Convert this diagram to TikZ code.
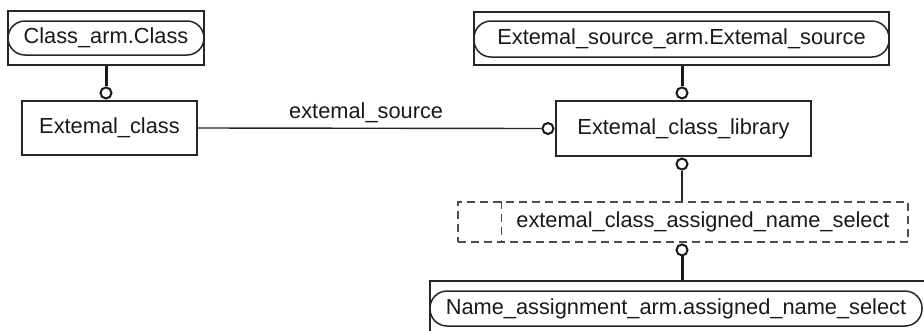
\documentclass[tikz,border=0pt]{standalone}
\usepackage{fontspec}
\setmainfont{Liberation Sans}
\begin{document}
\begin{tikzpicture}[x=1pt,y=-1pt,
  lbl/.style={font=\fontsize{21.8}{26}\selectfont, text=black!90},
  box/.style={draw=black!85, line width=1.5pt, inner sep=0pt, lbl},
  armin/.style={box, rounded corners=17pt},
  selbox/.style={draw=black!70, line width=1.3pt, dash pattern=on 8pt off 5pt, inner sep=0pt},
  thinc/.style={draw=black!85, line width=1.4pt},
  thickc/.style={draw=black!90, line width=3pt},
  ring/.style={circle, draw=black!90, line width=2pt, minimum size=11pt, inner sep=0pt, fill=white}
]
\useasboundingbox (0,0) rectangle (924,330);
\clip (0,0) rectangle (924,330);

% Class_arm.Class
\node[box, minimum width=196pt, minimum height=54pt] (arm1out) at (106,38) {};
\node[armin, minimum width=196pt, minimum height=34pt] (arm1in) at (106,38) {Class\_arm.Class};

% Extemal_class
\node[box, minimum width=175pt, minimum height=54pt] (ext) at (109.5,128) {Extemal\_class};

% Extemal_source_arm
\node[box, minimum width=415pt, minimum height=53pt] (arm2out) at (681.5,38.5) {};
\node[armin, minimum width=415pt, minimum height=36pt] (arm2in) at (681.5,39) {Extemal\_source\_arm.Extemal\_source};

% Extemal_class_library
\node[box, minimum width=255pt, minimum height=55pt] (lib) at (683.5,128.5) {Extemal\_class\_library};

% select
\node[selbox, minimum width=450pt, minimum height=40pt] (sel) at (683,222) {};
\draw[selbox] ([xshift=44pt]sel.north west) -- ([xshift=44pt]sel.south west);
\node[lbl] (seltext) at (703,222) {extemal\_class\_assigned\_name\_select};

% Name_assignment_arm
\node[box, minimum width=510pt, minimum height=69pt] (arm3out) at (685,315.5) {};
\node[armin, minimum width=492pt, minimum height=35pt] (arm3in) at (676,308.5) {Name\_assignment\_arm.assigned\_name\_select};

\coordinate (X) at (682,0);

% rings
\node[ring, anchor=south] (r1) at ([yshift=0.8pt]arm1out.south |- ext.north) {};
\node[ring, anchor=south] (r2) at ([yshift=0.8pt]lib.north -| X) {};
\node[ring, anchor=east] (r3) at ([xshift=-0.8pt]lib.west) {};
\node[ring, anchor=north] (r4) at ([yshift=-0.8pt]lib.south -| X) {};
\node[ring, anchor=north] (r5) at ([yshift=-0.8pt]sel.south -| X) {};

% connectors
\draw[thickc] (arm1out.south) -- (r1.north);
\draw[thickc] (arm2out.south -| X) -- (r2.north);
\draw[thinc] (ext.east) -- (r3.west)
  node[lbl, pos=0.49, yshift=15pt] (srclbl) {extemal\_source};
\draw[thinc] (r4.south) -- (sel.north -| X);
\draw[thickc] (r5.south) -- (arm3out.north -| X);
\end{tikzpicture}
\end{document}
